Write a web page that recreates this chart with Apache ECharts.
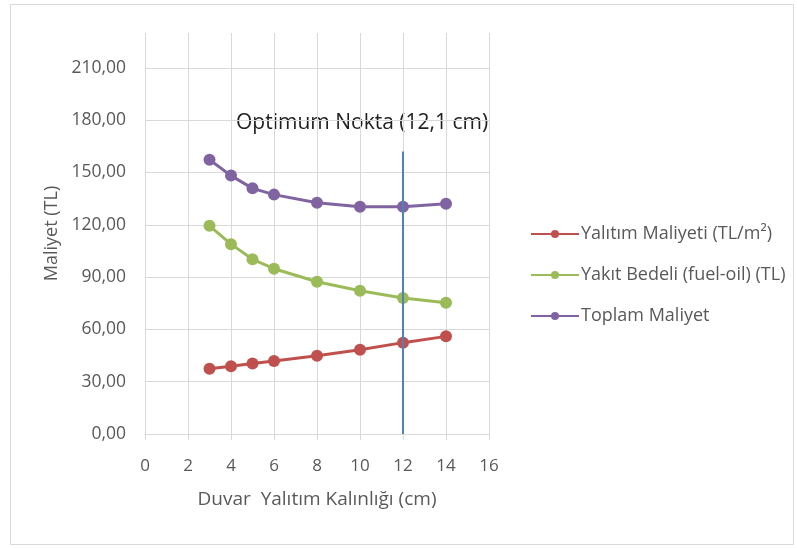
<!DOCTYPE html>
<html>
<head>
<meta charset="utf-8">
<title>Maliyet</title>
<script src="https://cdn.jsdelivr.net/npm/echarts@6/dist/echarts.min.js"></script>
<style>
  html, body { margin: 0; padding: 0; background: #fff; }
  #chart { width: 797px; height: 548px; }
</style>
</head>
<body>
<div id="chart"></div>
<script>
// Insulation thickness (cm)
const thickness = [3, 4, 5, 6, 8, 10, 12, 14];
// Insulation cost (TL/m²)
const insulationCost = [37.4, 38.8, 40.5, 41.9, 44.9, 48.3, 52.4, 56.0];
// Fuel cost (fuel-oil, TL)
const fuelCost = [119.4, 108.9, 100.2, 94.8, 87.3, 82.2, 78.0, 75.3];
// Total cost
const totalCost = [157.3, 148.2, 140.9, 137.3, 132.6, 130.4, 130.4, 132.0];
// Optimum marker: thickness and height of the marker line
const optimumX = [12, 12];
const optimumY = [0, 162];

const seriesNames = ['Yalıtım Maliyeti (TL/m²)', 'Yakıt Bedeli (fuel-oil) (TL)', 'Toplam Maliyet'];
const seriesColors = ['#c0504d', '#9bbb59', '#8064a2'];
const optimumText = 'Optimum Nokta (12,1 cm)';
const xTitle = 'Duvar  Yalıtım Kalınlığı (cm)';
const yTitle = 'Maliyet (TL)';

const FONT = '"Open Sans", "DejaVu Sans", sans-serif';
const GRID = '#d9d9d9';
const TEXT = '#595959';

function pairs(xs, ys) { return xs.map((x, i) => [x, ys[i]]); }

function costSeries(name, values, color) {
  return {
    name: name,
    type: 'line',
    data: pairs(thickness, values),
    symbol: 'circle',
    symbolSize: 12,
    lineStyle: { width: 3, color: color },
    itemStyle: { color: color },
    emphasis: { disabled: true },
    z: 3
  };
}

const chart = echarts.init(document.getElementById('chart'), null, { renderer: 'canvas' });

chart.setOption({
  animation: false,
  backgroundColor: '#ffffff',
  textStyle: { fontFamily: FONT },
  grid: { left: 145, right: 308, top: 33, bottom: 114, containLabel: false },
  xAxis: {
    type: 'value',
    min: 0, max: 16, interval: 2,
    name: xTitle,
    nameLocation: 'middle',
    nameGap: 56,
    nameTextStyle: { fontSize: 19, color: TEXT, fontFamily: FONT },
    axisLine: { show: true, lineStyle: { color: GRID, width: 1 } },
    axisTick: { show: true, length: 6, lineStyle: { color: GRID } },
    axisLabel: { fontSize: 17, color: TEXT, margin: 24, fontFamily: FONT },
    splitLine: { show: true, lineStyle: { color: GRID, width: 1 } }
  },
  yAxis: {
    type: 'value',
    min: 0, max: 230, interval: 30,
    name: yTitle,
    nameLocation: 'middle',
    nameGap: 84,
    nameTextStyle: { fontSize: 18, color: TEXT, fontFamily: FONT },
    axisLine: { show: false },
    axisTick: { show: false },
    axisLabel: {
      fontSize: 17.5, color: TEXT, margin: 19, fontFamily: FONT,
      showMaxLabel: false,
      formatter: v => v.toFixed(2).replace('.', ',')
    },
    splitLine: { show: true, showMaxLine: false, lineStyle: { color: GRID, width: 1 } }
  },
  legend: {
    data: seriesNames,
    orient: 'vertical',
    left: 530,
    top: 225,
    padding: 0,
    itemWidth: 48,
    itemHeight: 10,
    itemGap: 23,
    textStyle: { fontSize: 18, lineHeight: 18, color: TEXT, fontFamily: FONT, padding: [0, 0, 0, -3] }
  },
  graphic: [
    {
      type: 'rect',
      shape: { x: 10.5, y: 4.5, width: 783, height: 540 },
      style: { fill: 'none', stroke: '#d9d9d9', lineWidth: 1 },
      silent: true
    },
    {
      type: 'text',
      left: 236,
      top: 113,
      style: { text: optimumText, fontSize: 21, fill: '#1f1f1f', fontFamily: FONT },
      silent: true
    }
  ],
  series: [
    costSeries(seriesNames[0], insulationCost, seriesColors[0]),
    costSeries(seriesNames[1], fuelCost, seriesColors[1]),
    costSeries(seriesNames[2], totalCost, seriesColors[2]),
    {
      name: 'Optimum',
      type: 'line',
      data: pairs(optimumX, optimumY),
      symbol: 'none',
      lineStyle: { width: 2, color: '#4f81bd' },
      emphasis: { disabled: true },
      z: 5
    }
  ]
});
</script>
</body>
</html>
